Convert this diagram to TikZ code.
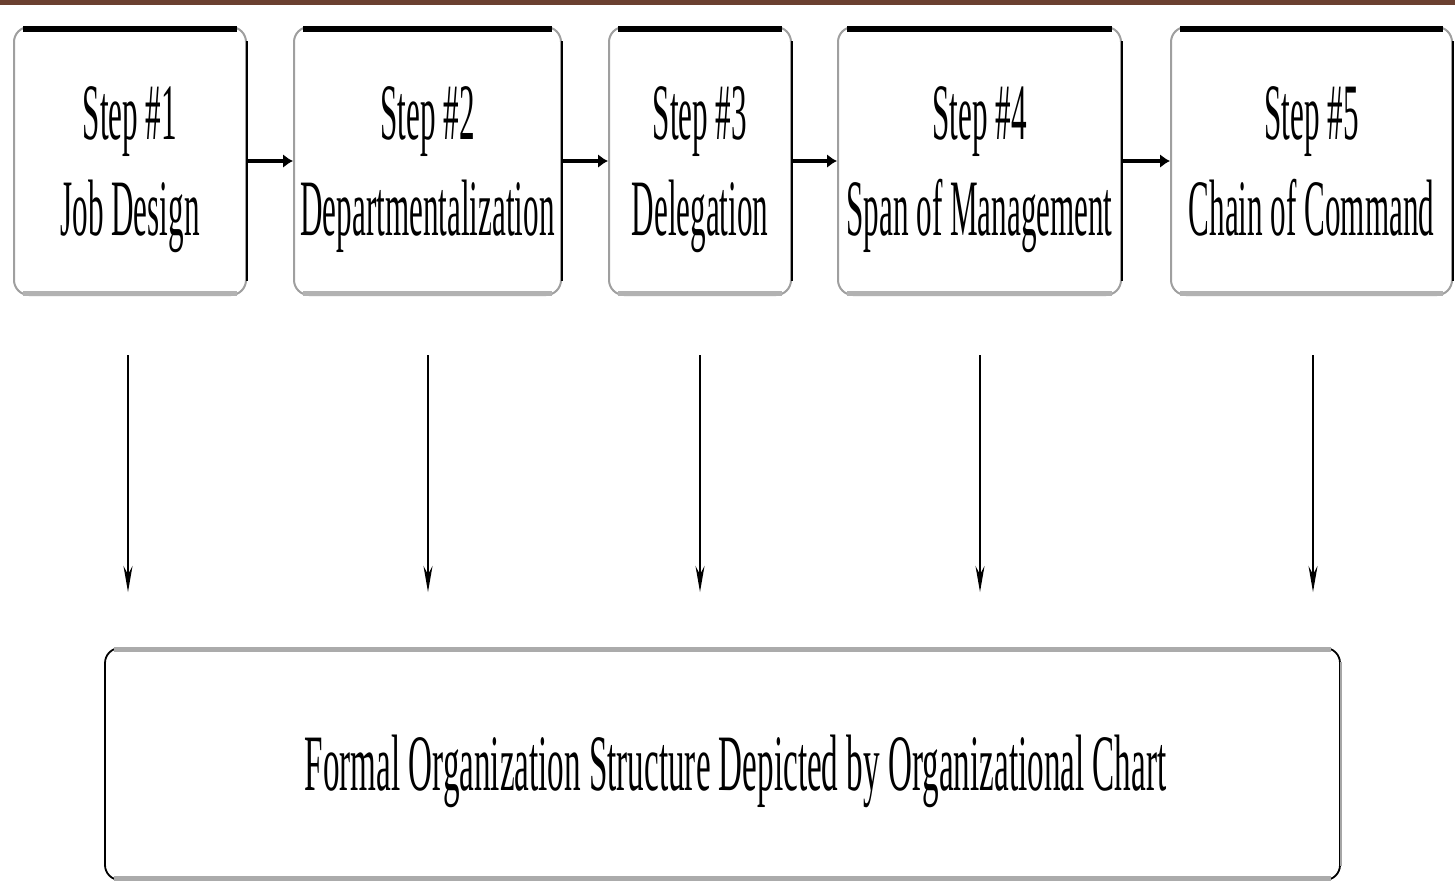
\documentclass[tikz,border=0pt]{standalone}
\usepackage{fontspec}
\setmainfont{Liberation Serif}
\usetikzlibrary{arrows.meta}
\tikzset{
  stepbox/.style={draw=gray!75, line width=1pt, rounded corners=7.5pt, minimum height=134pt, inner sep=0pt, align=center, font=\fontsize{40}{48}\selectfont},
  bigbox/.style={draw=black, line width=0.9pt, rounded corners=7.5pt, minimum height=116pt, minimum width=617.5pt, inner sep=0pt, font=\fontsize{40}{48}\selectfont},
  topline/.style={line width=3pt, black},
  botline/.style={line width=2.5pt, gray!60},
  grayline/.style={line width=2.5pt, black!33},
  harrow/.style={line width=2pt, -{Latex[length=5pt,width=7pt]}},
  varrow/.style={line width=0.8pt, -{Stealth[length=13pt,width=4.5pt]}},
}
\newcommand{\sq}[1]{\scalebox{0.389}[1]{#1}}
\newcommand{\twol}[2]{\rule{0pt}{40pt}\sq{#1}\\\sq{#2}\rule[-14pt]{0pt}{14pt}}
\begin{document}
\begin{tikzpicture}[x=0.5pt,y=-0.5pt]
\useasboundingbox (0,0) rectangle (1455,880);
\fill[fill={rgb,255:red,107;green,64;blue,48}] (0,0) rectangle (1455,5);
% step boxes
\node[stepbox, minimum width=116pt]   (b1) at (130,161)   {\twol{Step \#1}{Job Design}};
\node[stepbox, minimum width=133.5pt] (b2) at (427.5,161) {\twol{Step \#2}{Departmentalization}};
\node[stepbox, minimum width=91pt]    (b3) at (700,161)   {\twol{Step \#3}{Delegation}};
\node[stepbox, minimum width=141.5pt] (b4) at (979.5,161) {\twol{Step \#4}{Span of Management}};
\node[stepbox, minimum width=140.5pt] (b5) at (1311.5,161){\twol{Step \#5}{Chain of Command}};
\foreach \b in {b1,b2,b3,b4,b5}{
  \draw[topline] ([xshift=5pt,yshift=-1.5pt]\b.north west) -- ([xshift=-5pt,yshift=-1.5pt]\b.north east);
  \draw[botline] ([xshift=5pt,yshift=1.25pt]\b.south west) -- ([xshift=-5pt,yshift=1.25pt]\b.south east);
  \draw[black, line width=1pt] ([yshift=-7.5pt]\b.north east) -- ([yshift=7.5pt]\b.south east);
}
% big box
\node[bigbox] (big) at (722.5,764) {\hspace{13pt}\rule{0pt}{40.6pt}\scalebox{0.414}[1]{Formal Organization Structure Depicted by Organizational Chart}\rule[-14.4pt]{0pt}{14.4pt}};
\draw[grayline] ([xshift=5pt,yshift=-1.25pt]big.north west) -- ([xshift=-5pt,yshift=-1.25pt]big.north east);
\draw[grayline] ([xshift=5pt,yshift=1.25pt]big.south west) -- ([xshift=-5pt,yshift=1.25pt]big.south east);
\draw[gray!70, line width=1.2pt] ([yshift=-7.5pt]big.north east) -- ([yshift=7.5pt]big.south east);
% horizontal arrows
\draw[harrow] (b1.east) -- (b2.west);
\draw[harrow] (b2.east) -- (b3.west);
\draw[harrow] (b3.east) -- (b4.west);
\draw[harrow] (b4.east) -- (b5.west);
% vertical arrows
\foreach \i/\x in {1/128,2/428,3/700,4/980,5/1313}{
  \coordinate (s\i) at (\x,355);
  \coordinate (e\i) at (\x,592);
  \draw[varrow] (s\i) -- (e\i);
}
\end{tikzpicture}
\end{document}
